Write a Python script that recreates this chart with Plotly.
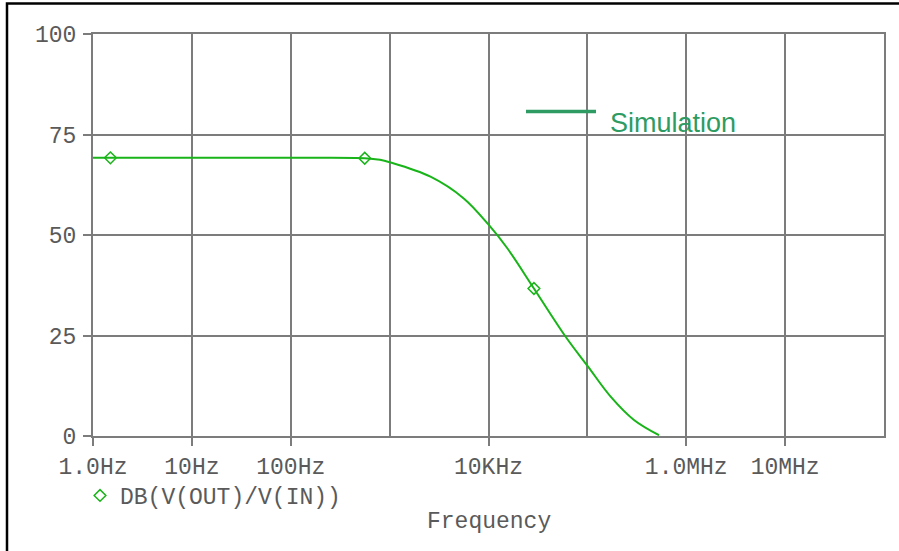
import plotly.graph_objects as go

# ---- data ----
freq_hz = [1, 1.5, 100, 560, 800, 1000, 2590, 5620, 10070, 15500, 28800, 60300, 102000, 172000, 296000, 531000]
gain_db = [69.2, 69.2, 69.2, 69.1, 68.7, 68.1, 64.5, 59.1, 52.5, 46.7, 36.7, 24.7, 17.2, 9.8, 4.0, 0.2]

marker_freq = [1.5, 560, 28800]
marker_db = [69.2, 69.1, 36.7]

x_tickvals = [1, 10, 100, 1e4, 1e6, 1e7]
x_ticktext = ["1.0Hz", "10Hz", "100Hz", "10KHz", "1.0MHz", "10MHz"]
x_gridonly = [1e3, 1e5, 1e8]
y_tickvals = [0, 25, 50, 75, 100]

series_name = "DB(V(OUT)/V(IN))"
overlay_label = "Simulation"
x_title = "Frequency"

# ---- styling ----
W, H = 899, 551
L, R, T, B = 93, 15, 34, 115
PW, PH = W - L - R, H - T - B
GRID = "#7c7c7c"
TXT = "#5a5a5a"
MONO = "Liberation Mono, Courier New, monospace"
FS = 23
CURVE = "#19b419"
SIMG = "#2e9b63"


def px_x(p):
    return (p - L) / PW


def px_y(p):
    return (H - B - p) / PH


fig = go.Figure()
fig.add_trace(go.Scatter(
    x=freq_hz, y=gain_db, mode="lines",
    line=dict(color=CURVE, width=2, shape="spline", smoothing=1.0),
    showlegend=False, hoverinfo="skip",
))
fig.add_trace(go.Scatter(
    x=marker_freq, y=marker_db, mode="markers", name=series_name,
    marker=dict(symbol="diamond-open", size=9, color=CURVE, line=dict(width=1.5, color=CURVE)),
    showlegend=True,
))

axis_common = dict(
    showline=True, mirror=True, linecolor=GRID, linewidth=2,
    showgrid=True, gridcolor=GRID, gridwidth=2,
    ticks="outside", ticklen=8, tickwidth=2, tickcolor=GRID,
    tickfont=dict(family=MONO, size=FS, color=TXT),
    zeroline=False,
)

fig.update_xaxes(
    type="log", range=[0, 8],
    tickmode="array", tickvals=x_tickvals, ticktext=x_ticktext,
    minor=dict(tickmode="array", tickvals=x_gridonly, showgrid=True,
               gridcolor=GRID, gridwidth=2, ticks=""),
    ticklabelstandoff=0,
    **axis_common,
)
fig.update_yaxes(
    range=[0, 100], tickmode="array", tickvals=y_tickvals,
    ticklabelstandoff=2,
    **axis_common,
)

fig.update_layout(
    width=W, height=H,
    margin=dict(l=L, r=R, t=T, b=B, pad=0),
    paper_bgcolor="white", plot_bgcolor="white",
    legend=dict(
        x=px_x(80), y=px_y(474), xanchor="left", yanchor="top",
        font=dict(family=MONO, size=FS, color=TXT),
        bgcolor="rgba(0,0,0,0)", itemwidth=30,
    ),
    shapes=[
        # outer black frame (cropped at right/bottom)
        dict(type="rect", xref="paper", yref="paper",
             x0=px_x(7), x1=1.2, y0=-0.6, y1=px_y(3.5),
             line=dict(color="black", width=2.5), fillcolor="rgba(0,0,0,0)"),
        # "Simulation" legend line
        dict(type="line", xref="paper", yref="paper",
             x0=px_x(526), x1=px_x(596), y0=px_y(111.5), y1=px_y(111.5),
             line=dict(color=SIMG, width=3.5)),
    ],
    annotations=[
        dict(text=overlay_label, xref="paper", yref="paper",
             x=px_x(608), y=px_y(123), xanchor="left", yanchor="middle",
             showarrow=False, font=dict(family="Liberation Sans, Arial, sans-serif", size=27, color=SIMG)),
        dict(text=x_title, xref="paper", yref="paper",
             x=0.5, y=px_y(522), xanchor="center", yanchor="middle",
             showarrow=False, font=dict(family=MONO, size=FS, color=TXT)),
    ],
)

fig.write_html(
    "out.html",
    config={"displayModeBar": False},
    post_script="document.body.style.margin='0';document.body.style.padding='0';",
)
